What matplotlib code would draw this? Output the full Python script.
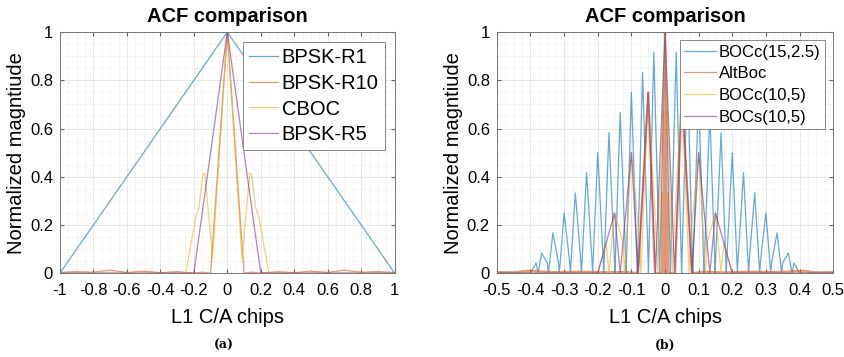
import numpy as np
import matplotlib.pyplot as plt
from matplotlib.ticker import MultipleLocator, AutoMinorLocator

plt.rcParams['font.family'] = ['Liberation Sans', 'DejaVu Sans']

# ---------------------------------------------------------
# Data: ACF half profiles for x >= 0 (the ACF is symmetric)
# ---------------------------------------------------------
# (a) L1 C/A chips, -1 .. 1
r1_x = [0, 1.0]
r1_y = [1, 0]

r10_x = [0, 0.1, 0.15, 0.2, 0.3, 0.4, 0.5, 0.6, 0.7, 0.8, 0.9, 1.0]
r10_y = [1, 0, 0.004, 0, 0.006, 0.002, 0.008, 0.003, 0.012, 0.004, 0.006, 0.003]

cboc_x = [0, 0.088, 0.134, 0.145, 0.17, 0.188, 0.248, 1.0]
cboc_y = [1, 0.06, 0.415, 0.41, 0.27, 0.235, 0, 0]

r5_x = [0, 0.2, 1.0]
r5_y = [1, 0, 0]

# (b) L1 C/A chips, -0.5 .. 0.5
bocc15_x = [0, 0.0160, 0.01667, 0.03333, 0.04928, 0.05, 0.06667, 0.08254, 0.08333,
            0.1, 0.11579, 0.11667, 0.13333, 0.14902, 0.15, 0.16667, 0.18222, 0.18333,
            0.2, 0.21538, 0.21667, 0.23333, 0.24848, 0.25, 0.26667, 0.28148, 0.28333,
            0.3, 0.31429, 0.31667, 0.33333, 0.34667, 0.35, 0.36667, 0.37778, 0.38333,
            0.4, 0.5]
bocc15_y = [1, 0, 0.042, 0.917, 0, 0.042, 0.833, 0, 0.042,
            0.75, 0, 0.042, 0.667, 0, 0.042, 0.583, 0, 0.042,
            0.5, 0, 0.042, 0.417, 0, 0.042, 0.333, 0, 0.042,
            0.25, 0, 0.042, 0.167, 0, 0.042, 0.083, 0, 0.042,
            0, 0]

altboc_x = [0, 0.00175, 0.0035, 0.00525, 0.007, 0.0095, 0.03, 0.05, 0.08,
            0.12, 0.18, 0.25, 0.33, 0.41, 0.45, 0.5]
altboc_y = [1, 0, 0.67, 0, 0.33, 0, 0, 0.75, 0,
            0.005, 0.003, 0.006, 0.004, 0.01, 0.003, 0.004]

bocc10_x = [0, 0.0222, 0.025, 0.05, 0.0714, 0.075, 0.1, 0.12, 0.125,
            0.15, 0.1667, 0.175, 0.2, 0.5]
bocc10_y = [1, 0, 0.125, 0.75, 0, 0.125, 0.5, 0, 0.125,
            0.25, 0, 0.125, 0, 0]

bocs10_x = [0, 0.0286, 0.05, 0.08, 0.1, 0.1333, 0.15, 0.2, 0.5]
bocs10_y = [1, 0, 0.75, 0, 0.5, 0, 0.25, 0, 0]

labels_a = ['BPSK-R1', 'BPSK-R10', 'CBOC', 'BPSK-R5']
labels_b = ['BOCc(15,2.5)', 'AltBoc', 'BOCc(10,5)', 'BOCs(10,5)']

# MATLAB default line colours
colors = [(0, 0.447, 0.741), (0.85, 0.325, 0.098),
          (0.929, 0.694, 0.125), (0.494, 0.184, 0.556)]


def mirror(x, y):
    x = np.asarray(x, dtype=float)
    y = np.asarray(y, dtype=float)
    return np.concatenate([-x[:0:-1], x]), np.concatenate([y[:0:-1], y])


def style_axes(ax, xmin, xmax, xstep):
    ax.set_xlim(xmin, xmax)
    ax.set_ylim(0, 1)
    ax.xaxis.set_minor_locator(AutoMinorLocator(4))
    ax.yaxis.set_minor_locator(AutoMinorLocator(4))
    ax.grid(True, which='major', color='#e4e4e4', lw=0.6)
    ax.grid(True, which='minor', color='#f1f1f1', lw=0.5)
    ax.set_axisbelow(True)
    ax.tick_params(which='both', direction='in', top=True, right=True,
                   labelsize=12, color='#666666')
    ax.tick_params(which='major', length=3)
    ax.tick_params(which='minor', length=0)
    ax.tick_params(axis='x', pad=7)
    ax.tick_params(axis='y', pad=5)
    for s in ax.spines.values():
        s.set_color('#777777')
        s.set_linewidth(0.7)
    # MATLAB style tick labels: "0", "0.2", ..., "1"
    xt = np.round(np.arange(xmin, xmax + xstep / 2, xstep), 3)
    ax.set_xticks(xt)
    ax.set_xticklabels([f"{v:g}" if v != 0 else "0" for v in xt])
    yt = np.round(np.arange(0, 1.01, 0.2), 2)
    ax.set_yticks(yt)
    ax.set_yticklabels([f"{v:g}" for v in yt])
    ax.set_title('ACF comparison', fontsize=14.5, fontweight='bold', pad=7)
    ax.set_xlabel('L1 C/A chips', fontsize=14.5, labelpad=7)
    ax.set_ylabel('Normalized magntiude', fontsize=14.5, labelpad=3)


fig = plt.figure(figsize=(8.45, 3.57), dpi=100)
ax1 = fig.add_axes([0.071, 0.235, 0.396, 0.675])
ax2 = fig.add_axes([0.588, 0.235, 0.398, 0.675])

# ---- (a)
series_a = [(r1_x, r1_y), (r10_x, r10_y), (cboc_x, cboc_y), (r5_x, r5_y)]
for (x, y), lab, c in zip(series_a, labels_a, colors):
    xx, yy = mirror(x, y)
    ax1.plot(xx, yy, color=c, lw=0.9, alpha=0.6, label=lab)
style_axes(ax1, -1, 1, 0.2)
leg = ax1.legend(loc='upper right', fontsize=14.5, handlelength=1.4,
                 handletextpad=0.2, borderpad=0.3, labelspacing=0.33,
                 fancybox=False, framealpha=1, borderaxespad=0.5)
leg.get_frame().set_edgecolor('#888888')
leg.get_frame().set_linewidth(0.7)

# ---- (b)
series_b = [(bocc15_x, bocc15_y), (altboc_x, altboc_y),
            (bocc10_x, bocc10_y), (bocs10_x, bocs10_y)]
for (x, y), lab, c in zip(series_b, labels_b, colors):
    xx, yy = mirror(x, y)
    lw = 1.6 if lab == 'AltBoc' else 0.9
    ax2.plot(xx, yy, color=c, lw=lw, alpha=0.6, label=lab)
style_axes(ax2, -0.5, 0.5, 0.1)
leg = ax2.legend(loc='upper right', fontsize=12, handlelength=1.9,
                 handletextpad=0.2, borderpad=0.25, labelspacing=0.4,
                 fancybox=False, framealpha=1, borderaxespad=0.5)
leg.get_frame().set_edgecolor('#888888')
leg.get_frame().set_linewidth(0.7)
for line in leg.get_lines():
    line.set_linewidth(0.9)

fig.text(0.265, 0.033, '(a)', fontsize=9, fontweight='bold',
         family='DejaVu Serif', ha='center', va='center')
fig.text(0.787, 0.033, '(b)', fontsize=9, fontweight='bold',
         family='DejaVu Serif', ha='center', va='center')

fig.savefig('out.png', dpi=100)
